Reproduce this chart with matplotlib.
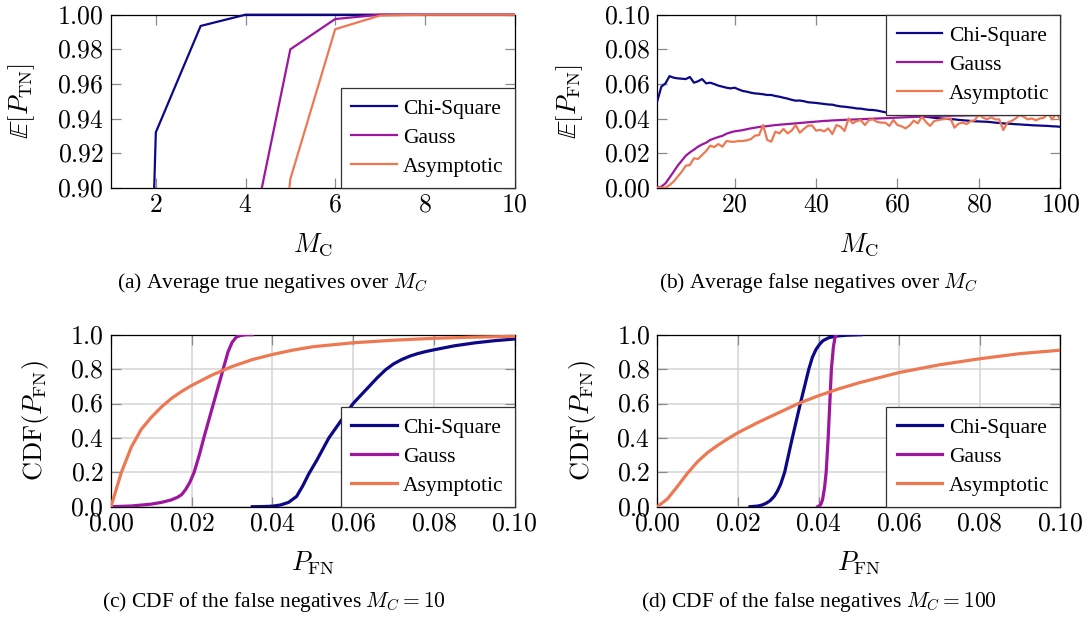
import numpy as np
import matplotlib
matplotlib.use("Agg")
import matplotlib.pyplot as plt
from matplotlib.ticker import FuncFormatter
from matplotlib.transforms import Bbox, TransformedBbox

plt.rcParams['font.family'] = ['Liberation Serif', 'DejaVu Serif']
plt.rcParams['mathtext.fontset'] = 'cm'

c_chi = '#0d0887'
c_gauss = '#9c179e'
c_asym = '#ed7953'
names = ['Chi-Square', 'Gauss', 'Asymptotic']

# (a) average true negatives over M_C
mc_a = [1, 2, 3, 4, 5, 6, 7, 8, 9, 10]
tn_chi = [0.05, 0.932, 0.9935, 1.0, 1.0, 1.0, 1.0, 1.0, 1.0, 1.0]
tn_gauss = [0.3, 0.5, 0.7, 0.854, 0.980, 0.9975, 1.0, 1.0, 1.0, 1.0]
tn_asym = [0.2, 0.3, 0.5, 0.655, 0.905, 0.9916, 0.9995, 1.0, 1.0, 1.0]

# (b) average false negatives over M_C
mc_b = list(range(1, 101))
fn_chi = [0.0501, 0.0584, 0.0603, 0.0645, 0.0636, 0.0632, 0.0630, 0.0628, 0.0640, 0.0607,
          0.0615, 0.0628, 0.0603, 0.0607, 0.0599, 0.0590, 0.0584, 0.0578, 0.0574, 0.0578,
          0.0568, 0.0559, 0.0555, 0.0549, 0.0545, 0.0543, 0.0540, 0.0536, 0.0536, 0.0530,
          0.0526, 0.0520, 0.0515, 0.0508, 0.0503, 0.0504, 0.0500, 0.0494, 0.0492, 0.0490,
          0.0487, 0.0484, 0.0481, 0.0480, 0.0474, 0.0470, 0.0468, 0.0465, 0.0462, 0.0458,
          0.0457, 0.0453, 0.0450, 0.0449, 0.0446, 0.0441, 0.0436, 0.0434, 0.0432, 0.0430,
          0.0428, 0.0424, 0.0421, 0.0416, 0.0414, 0.0412, 0.0410, 0.0407, 0.0404, 0.0402,
          0.0400, 0.0398, 0.0396, 0.0395, 0.0392, 0.0390, 0.0388, 0.0386, 0.0384, 0.0383,
          0.0382, 0.0381, 0.0379, 0.0376, 0.0374, 0.0372, 0.0370, 0.0369, 0.0367, 0.0366,
          0.0364, 0.0363, 0.0361, 0.0360, 0.0359, 0.0358, 0.0357, 0.0355, 0.0354, 0.0352]
fn_gauss = [0.0, 0.0006, 0.0025, 0.0058, 0.0092, 0.0127, 0.0156, 0.0185, 0.0204, 0.0220,
            0.0237, 0.0250, 0.0260, 0.0276, 0.0285, 0.0293, 0.0300, 0.0312, 0.0320, 0.0326,
            0.0329, 0.0333, 0.0338, 0.0343, 0.0347, 0.0351, 0.0354, 0.0356, 0.0359, 0.0362,
            0.0364, 0.0366, 0.0368, 0.0370, 0.0372, 0.0374, 0.0376, 0.0378, 0.0380, 0.0382,
            0.0384, 0.0386, 0.0387, 0.0389, 0.0390, 0.0391, 0.0392, 0.0393, 0.0394, 0.0395,
            0.0396, 0.0397, 0.0398, 0.0399, 0.0400, 0.0401, 0.0402, 0.0403, 0.0404, 0.0405,
            0.0406, 0.0407, 0.0408, 0.0409, 0.0410, 0.0411, 0.0412, 0.0413, 0.0414, 0.0415,
            0.0416, 0.0416, 0.0416, 0.0417, 0.0417, 0.0417, 0.0418, 0.0418, 0.0418, 0.0418,
            0.0419, 0.0419, 0.0419, 0.0419, 0.0420, 0.0420, 0.0420, 0.0420, 0.0420, 0.0421,
            0.0421, 0.0421, 0.0421, 0.0421, 0.0422, 0.0422, 0.0422, 0.0422, 0.0422, 0.0422]
fn_asym = [0.0, 0.0, 0.0, 0.0015, 0.0035, 0.0064, 0.0092, 0.0127, 0.0131, 0.0170,
           0.0166, 0.0189, 0.0212, 0.0243, 0.0235, 0.0252, 0.0237, 0.0270, 0.0266, 0.0266,
           0.0270, 0.0270, 0.0274, 0.0281, 0.0301, 0.0304, 0.0362, 0.0276, 0.0266, 0.0324,
           0.0314, 0.0340, 0.0314, 0.0330, 0.0362, 0.0318, 0.0340, 0.0358, 0.0360, 0.0330,
           0.0334, 0.0326, 0.0343, 0.0310, 0.0362, 0.0353, 0.0328, 0.0400, 0.0372, 0.0385,
           0.0391, 0.0362, 0.0391, 0.0395, 0.0380, 0.0376, 0.0376, 0.0357, 0.0391, 0.0362,
           0.0355, 0.0343, 0.0360, 0.0388, 0.0372, 0.0410, 0.0380, 0.0357, 0.0385, 0.0391,
           0.0395, 0.0398, 0.0401, 0.0347, 0.0370, 0.0376, 0.0368, 0.0385, 0.0390, 0.0424,
           0.0405, 0.0395, 0.0407, 0.0395, 0.0395, 0.0333, 0.0376, 0.0385, 0.0400, 0.0420,
           0.0410, 0.0395, 0.0400, 0.0390, 0.0400, 0.0405, 0.0430, 0.0395, 0.0430, 0.0392]

# (c) CDF of P_FN, M_C = 10
c_chi_x = [0.035, 0.038, 0.04, 0.042, 0.044, 0.046, 0.0475, 0.049, 0.051, 0.0525,
           0.054, 0.057, 0.060, 0.062, 0.064, 0.066, 0.068, 0.070, 0.072, 0.074,
           0.076, 0.078, 0.080, 0.085, 0.090, 0.095, 0.100]
c_chi_y = [0.0, 0.001, 0.003, 0.01, 0.025, 0.06, 0.12, 0.19, 0.27, 0.335,
           0.4, 0.5, 0.6, 0.65, 0.7, 0.75, 0.795, 0.83, 0.855, 0.875,
           0.89, 0.902, 0.912, 0.935, 0.952, 0.965, 0.975]
c_gauss_x = [0.0, 0.005, 0.01, 0.0125, 0.015, 0.0165, 0.0175, 0.0185, 0.0195, 0.0206,
             0.022, 0.023, 0.0242, 0.0254, 0.0266, 0.0278, 0.029, 0.030, 0.031, 0.032,
             0.0335, 0.035]
c_gauss_y = [0.0, 0.004, 0.015, 0.025, 0.04, 0.055, 0.07, 0.1, 0.14, 0.2,
             0.31, 0.4, 0.5, 0.6, 0.7, 0.8, 0.9, 0.955, 0.985, 0.995,
             1.0, 1.0]
c_asym_x = [0.0, 0.0025, 0.005, 0.0075, 0.01, 0.0125, 0.015, 0.0175, 0.02, 0.025,
            0.03, 0.035, 0.04, 0.045, 0.05, 0.06, 0.07, 0.08, 0.09, 0.1]
c_asym_y = [0.0, 0.195, 0.345, 0.45, 0.52, 0.58, 0.63, 0.67, 0.705, 0.765,
            0.815, 0.855, 0.885, 0.91, 0.93, 0.953, 0.968, 0.979, 0.986, 0.99]

# (d) CDF of P_FN, M_C = 100
d_chi_x = [0.023, 0.025, 0.026, 0.027, 0.028, 0.029, 0.0298, 0.0306, 0.0316, 0.0335,
           0.0355, 0.0376, 0.0385, 0.0394, 0.0403, 0.0411, 0.0425, 0.0444, 0.047, 0.0506]
d_chi_y = [0.0, 0.004, 0.01, 0.02, 0.035, 0.06, 0.09, 0.13, 0.2, 0.4,
           0.6, 0.8, 0.87, 0.915, 0.945, 0.965, 0.982, 0.992, 0.997, 1.0]
d_gauss_x = [0.0398, 0.0405, 0.041, 0.0415, 0.0419, 0.0424, 0.0428, 0.0432, 0.0437, 0.0441, 0.0445]
d_gauss_y = [0.0, 0.01, 0.04, 0.11, 0.2, 0.4, 0.6, 0.8, 0.93, 0.985, 1.0]
d_asym_x = [0.0, 0.0025, 0.005, 0.0075, 0.01, 0.0125, 0.015, 0.0175, 0.02, 0.025,
            0.03, 0.035, 0.04, 0.045, 0.05, 0.06, 0.07, 0.08, 0.09, 0.1]
d_asym_y = [0.0, 0.045, 0.118, 0.195, 0.262, 0.315, 0.357, 0.395, 0.43, 0.49,
            0.545, 0.6, 0.645, 0.685, 0.72, 0.78, 0.825, 0.86, 0.89, 0.91]

W, H = 1089, 619
fig = plt.figure(figsize=(W / 100, H / 100), dpi=100)

def px_axes(left, top, right, bottom):
    return fig.add_axes([left / W, 1 - bottom / H, (right - left) / W, (bottom - top) / H])

ax_a = px_axes(111, 14.7, 514.5, 187.7)
ax_b = px_axes(657.3, 14.7, 1060.3, 187.7)
ax_c = px_axes(111, 334.7, 514.5, 506.7)
ax_d = px_axes(657.3, 334.7, 1060.3, 506.7)

tick_fs = 18.5
math_fmt = lambda d: FuncFormatter(lambda v, p: '$%.*f$' % (d, v))


def style(ax, xfmt, yfmt, ylab_off, grid=False):
    ax.tick_params(direction='in', top=True, right=True, length=7, width=0.9,
                   color='#8a8a8a', labelsize=tick_fs, pad=5)
    ax.xaxis.set_major_formatter(math_fmt(xfmt))
    ax.yaxis.set_major_formatter(math_fmt(yfmt))
    for s in ax.spines.values():
        s.set_linewidth(0.9)
    if grid:
        ax.grid(True, color='#d4d4d4', linewidth=1.1)
        ax.set_axisbelow(True)
    w = ax.get_position().width * W
    h = ax.get_position().height * H
    ax.yaxis.set_label_coords(-ylab_off / w, 0.5)
    ax.xaxis.set_label_coords(0.5, -57 / h)


def legend(ax, loc):
    leg = ax.legend(loc=loc, borderaxespad=0, fancybox=False, framealpha=1,
                    edgecolor='#333333', prop={'size': 15.5}, handlelength=2.1,
                    handletextpad=0.3, labelspacing=0.42, borderpad=0.5)
    leg.get_frame().set_linewidth(0.9)
    leg.set_zorder(5)


# (a)
lw1 = 1.6
clip_a = TransformedBbox(Bbox([[0, 0], [1, 1.02]]), ax_a.transAxes)
for vals, col, lab in [(tn_chi, c_chi, names[0]), (tn_gauss, c_gauss, names[1]),
                       (tn_asym, c_asym, names[2])]:
    ln, = ax_a.plot(mc_a, vals, color=col, lw=lw1, label=lab, zorder=3)
    ln.set_clip_box(clip_a)
ax_a.set_xlim(1, 10)
ax_a.set_ylim(0.9, 1.0)
ax_a.set_xticks([2, 4, 6, 8, 10])
ax_a.set_yticks(np.arange(0.9, 1.001, 0.02))
style(ax_a, 0, 2, 89)
ax_a.set_xlabel(r'$M_{\mathrm{C}}$', fontsize=19, va='center')
ax_a.set_ylabel(r'$\mathbb{E}[P_{\mathrm{TN}}]$', fontsize=19, va='center')
legend(ax_a, 'lower right')

# (b)
ax_b.plot(mc_b, fn_chi, color=c_chi, lw=lw1, label=names[0], zorder=3)
ax_b.plot(mc_b, fn_gauss, color=c_gauss, lw=lw1, label=names[1], zorder=3)
ax_b.plot(mc_b, fn_asym, color=c_asym, lw=lw1, label=names[2], zorder=3)
ax_b.set_xlim(1, 100)
ax_b.set_ylim(0, 0.1)
ax_b.set_xticks([20, 40, 60, 80, 100])
ax_b.set_yticks(np.arange(0, 0.101, 0.02))
style(ax_b, 0, 2, 88)
ax_b.set_xlabel(r'$M_{\mathrm{C}}$', fontsize=19, va='center')
ax_b.set_ylabel(r'$\mathbb{E}[P_{\mathrm{FN}}]$', fontsize=19, va='center')
legend(ax_b, 'upper right')

# (c) and (d)
lw2 = 2.3
for ax, cx, cy, gx, gy, sx, sy in [
        (ax_c, c_chi_x, c_chi_y, c_gauss_x, c_gauss_y, c_asym_x, c_asym_y),
        (ax_d, d_chi_x, d_chi_y, d_gauss_x, d_gauss_y, d_asym_x, d_asym_y)]:
    ax.plot(cx, cy, color=c_chi, lw=lw2, label=names[0], zorder=3)
    ax.plot(gx, gy, color=c_gauss, lw=lw2, label=names[1], zorder=3)
    ax.plot(sx, sy, color=c_asym, lw=lw2, label=names[2], zorder=3)
    ax.set_xlim(0, 0.1)
    ax.set_ylim(0, 1)
    ax.set_xticks(np.arange(0, 0.101, 0.02))
    ax.set_yticks(np.arange(0, 1.01, 0.2))
    style(ax, 2, 1, 75, grid=True)
    ax.set_xlabel(r'$P_{\mathrm{FN}}$', fontsize=19, va='center')
    ax.set_ylabel(r'$\mathrm{CDF}(P_{\mathrm{FN}})$', fontsize=19, va='center')
    legend(ax, 'lower right')

cap_fs = 15.5
fig.text(272.5 / W, 1 - 283.3 / H, r'(a) Average true negatives over $M_C$',
         ha='center', va='center', fontsize=cap_fs)
fig.text(818.5 / W, 1 - 283.3 / H, r'(b) Average false negatives over $M_C$',
         ha='center', va='center', fontsize=cap_fs)
fig.text(273.8 / W, 1 - 602.5 / H, r'(c) CDF of the false negatives $M_C = 10$',
         ha='center', va='center', fontsize=cap_fs)
fig.text(818.5 / W, 1 - 602.5 / H, r'(d) CDF of the false negatives $M_C = 100$',
         ha='center', va='center', fontsize=cap_fs)

fig.savefig('out.png', dpi=100)
